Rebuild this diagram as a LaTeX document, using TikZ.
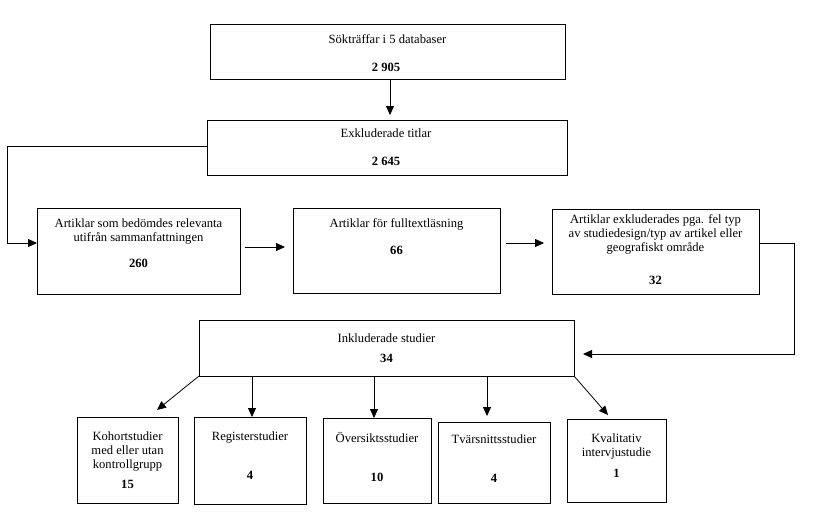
\documentclass[tikz,border=0pt]{standalone}
\usepackage{fontspec}
\setmainfont{Liberation Serif}
\usetikzlibrary{arrows.meta,calc}
\begin{document}
\begin{tikzpicture}[x=1pt,y=-1pt,
  box/.style={draw=black, line width=0.8pt, inner sep=0pt, outer sep=0pt},
  txt/.style={inner sep=0pt, align=center, font=\fontsize{12.6}{13.8}\selectfont},
  num/.style={inner sep=0pt, font=\fontsize{12.6}{13.8}\selectfont\bfseries},
  arr/.style={draw=black, line width=0.8pt, -{Triangle[length=9pt,width=8pt]}}]
\useasboundingbox (0,0) rectangle (820,525);
\fill[white] (0,0) rectangle (820,525);
% boxes
\node[box, minimum width=355pt, minimum height=55pt] (b1) at (387.5,51.5) {};
\node[box, minimum width=360pt, minimum height=55pt] (b2) at (387,147.5) {};
\node[box, minimum width=203pt, minimum height=86pt] (b3) at (138.5,251) {};
\node[box, minimum width=207pt, minimum height=85pt] (b4) at (396.5,250.5) {};
\node[box, minimum width=207pt, minimum height=85pt] (b5) at (655.5,251.5) {};
\node[box, minimum width=375pt, minimum height=56pt] (b6) at (386.5,348) {};
\node[box, minimum width=101pt, minimum height=86pt] (k1) at (127.5,460) {};
\node[box, minimum width=112pt, minimum height=87pt] (k2) at (250,460.5) {};
\node[box, minimum width=108pt, minimum height=85pt] (k3) at (377,460.5) {};
\node[box, minimum width=112pt, minimum height=81pt] (k4) at (494,462.5) {};
\node[box, minimum width=99pt, minimum height=83pt] (k5) at (616.5,460.5) {};
% texts
\node[txt, anchor=base] (t1) at (387.5,43) {Sökträffar i 5 databaser};
\node[num] (n1) at (386,67) {2 905};
\node[txt, anchor=base] (t2) at (386,137) {Exkluderade titlar};
\node[num] (n2) at (386,161) {2 645};
\node[txt, anchor=north] (t3) at (138.5,218.5) {Artiklar som bedömdes relevanta\\utifrån sammanfattningen};
\node[num] (n3) at (138.5,263) {260};
\node[txt, anchor=base] (t4) at (396.5,227) {Artiklar för fulltextläsning};
\node[num] (n4) at (396.5,250) {66};
\node[txt, anchor=north] (t5) at (655.5,214.5) {Artiklar exkluderades pga. fel typ\\av studiedesign/typ av artikel eller\\geografiskt område};
\node[num] (n5) at (655.5,280) {32};
\node[txt, anchor=base] (t6) at (386.5,342) {Inkluderade studier};
\node[num] (n6) at (386.5,358) {34};
\node[txt, anchor=north] (tk1) at (127.5,431.5) {Kohortstudier\\med eller utan\\kontrollgrupp};
\node[num] (nk1) at (127.5,484) {15};
\node[txt, anchor=base] (tk2) at (250,440) {Registerstudier};
\node[num] (nk2) at (250,475) {4};
\node[txt, anchor=base] (tk3) at (377,442) {Översiktsstudier};
\node[num] (nk3) at (377,477) {10};
\node[txt, anchor=base] (tk4) at (494,443) {Tvärsnittsstudier};
\node[num] (nk4) at (494,478) {4};
\node[txt, anchor=north] (tk5) at (616.5,433.5) {Kvalitativ\\intervjustudie};
\node[num] (nk5) at (616.5,473) {1};
% connectors
\draw[arr, shorten >=5pt] ([xshift=2.5pt]b1.south) -- ([xshift=2.5pt]b1.south |- b2.north);
\draw[arr] ([yshift=1.5pt]b2.west) -- ++(-200,0) |- ([yshift=8pt]b3.west);
\draw[arr, shorten <=5pt, shorten >=8pt] ([yshift=4pt]b3.east) -- ([yshift=3.5pt]b4.west);
\draw[arr, shorten <=6pt, shorten >=8pt] ([yshift=7.5pt]b4.east) -- ([yshift=8.5pt]b5.west);
\draw[arr] ([yshift=8.5pt]b5.east) -- ++(35,0) |- ([xshift=9pt,yshift=-6pt]b6.east);
\draw[arr] (b6.south west) -- ($(k1.north)+(29.5,-7)$);
\draw[arr] ([xshift=2pt]k2.north |- b6.south) -- ([xshift=2pt]k2.north);
\draw[arr] ([xshift=-3pt]k3.north |- b6.south) -- ([xshift=-3pt]k3.north);
\draw[arr, shorten >=6pt] ([xshift=-7pt]k4.north |- b6.south) -- ([xshift=-7pt]k4.north);
\draw[arr] (b6.south east) -- ($(k5.north)+(-8.5,-4)$);
\end{tikzpicture}
\end{document}
